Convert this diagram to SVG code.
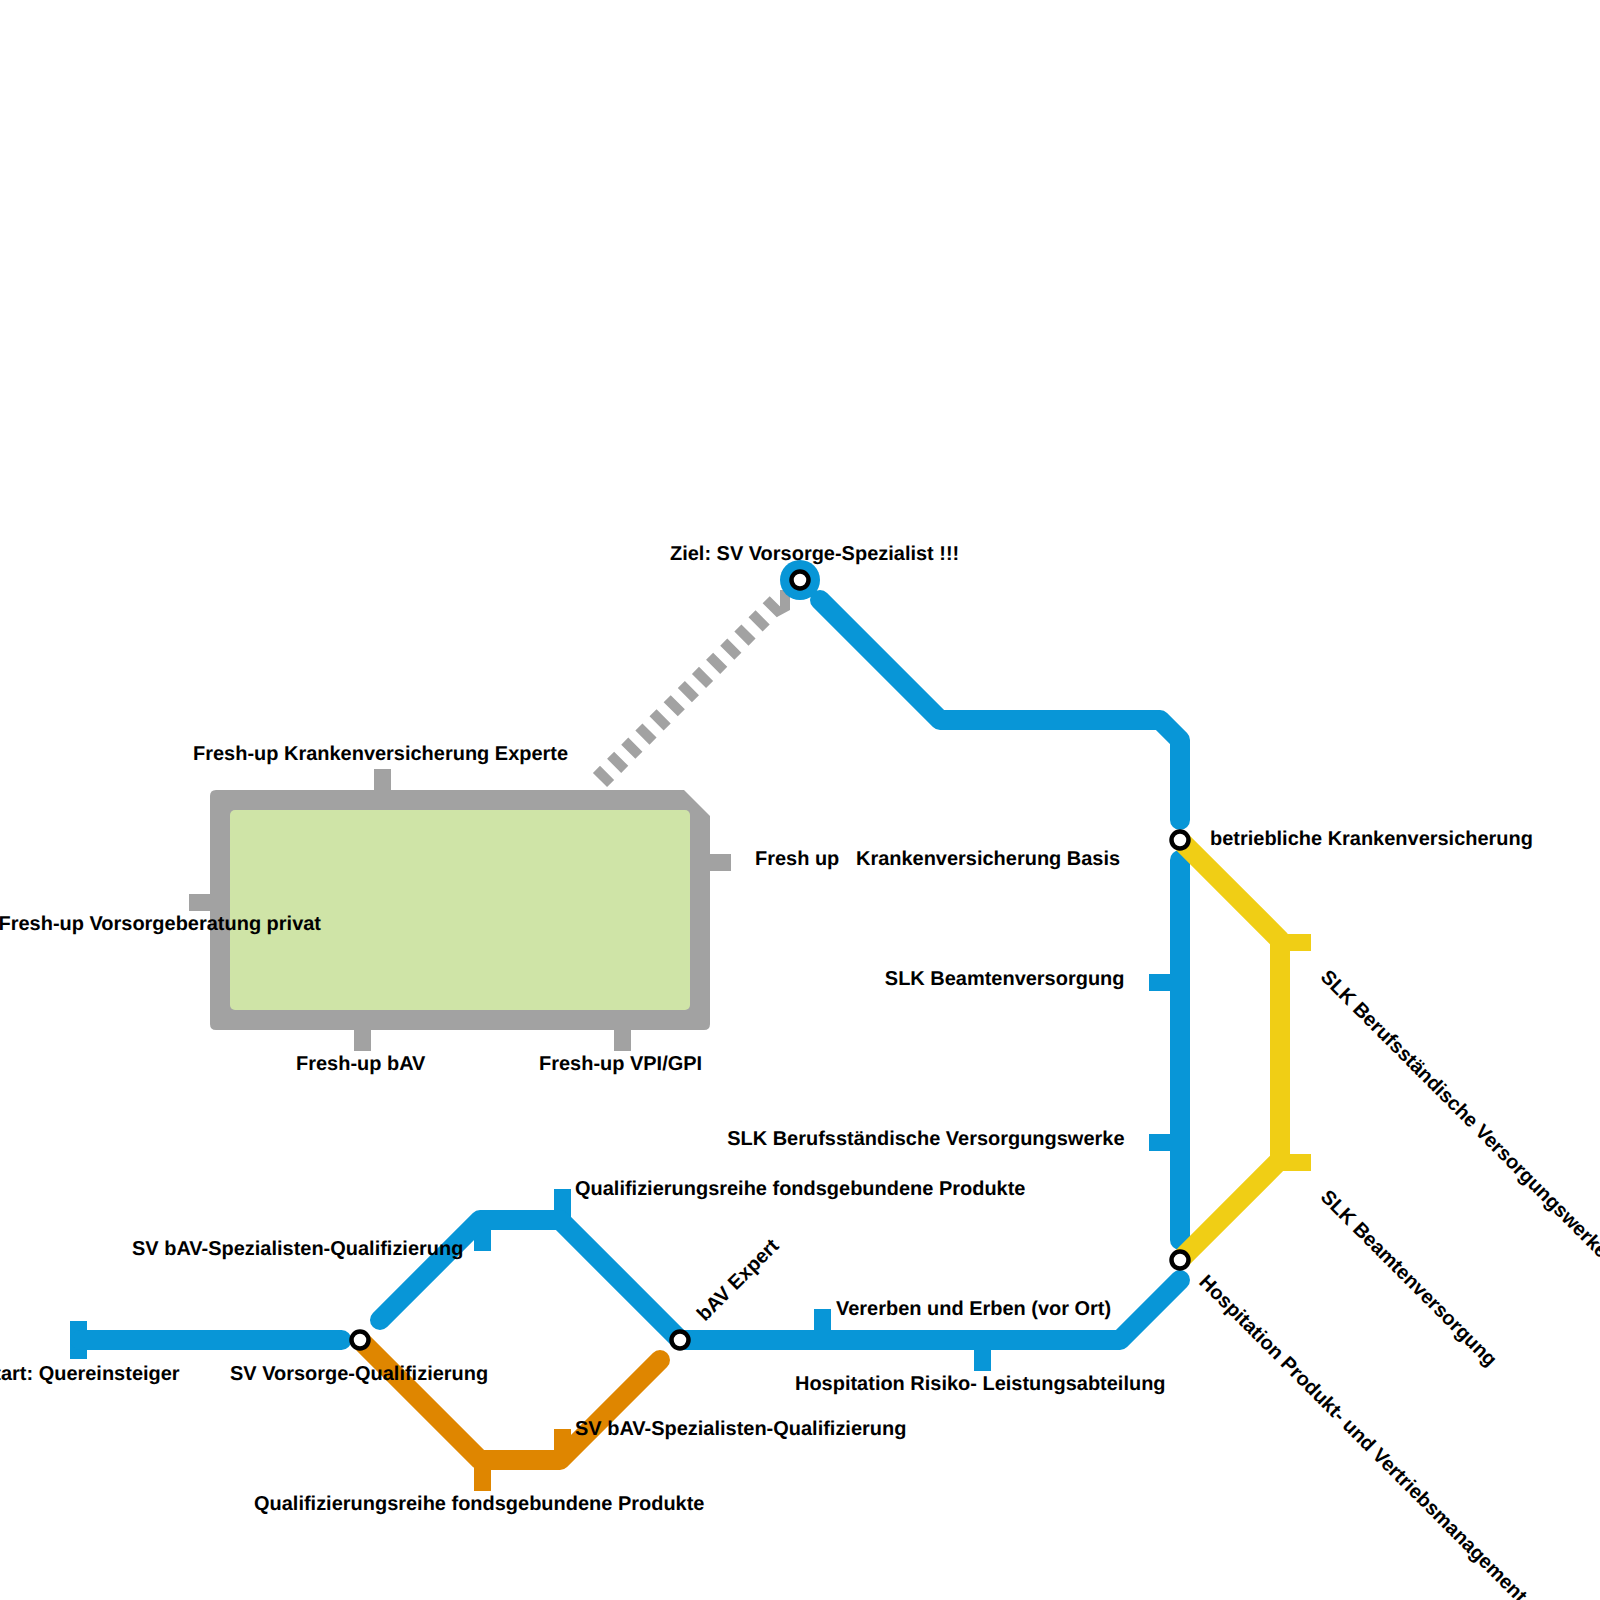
<svg xmlns="http://www.w3.org/2000/svg" width="1600" height="1600" viewBox="0 0 1600 1600">
<style>
.l{fill:none;stroke-width:20;stroke-linecap:round;stroke-linejoin:round}
.b{stroke:#0896d7}.y{stroke:#f0ce15}.o{stroke:#df8600}.g{stroke:#a2a2a2}
.tb{fill:#0896d7}.ty{fill:#f0ce15}.to{fill:#df8600}.tg{fill:#a2a2a2}
.s{fill:#fff;stroke:#000;stroke-width:4.5}
text{font-family:"Liberation Sans",Arial,sans-serif;font-weight:700;font-size:19.98px;fill:#000;text-rendering:geometricPrecision}
</style>
<g id="area">
<path class="tg" d="M216 790H684L710 816V1024Q710 1030 704 1030H216Q210 1030 210 1024V796Q210 790 216 790Z"/>
<rect x="230" y="810" width="460" height="200" rx="5" fill="#cfe4a7"/>
</g>
<g id="connectors">
<path class="tg" d="M374 769h17v21h-17zM189 894h21v17h-21zM354 1030h17v21h-17zM614 1030h17v21h-17zM710 854h21v17h-21z"/>
<path d="M600 780L777 603" fill="none" stroke="#a2a2a2" stroke-width="20" stroke-dasharray="10 10"/>
<path class="tg" d="M780 606V590H790V610L777 617Z"/>
<path class="to" d="M554 1429h17v31h-17zM474 1460h17v31h-17z"/>
<path class="l o" d="M360 1340L480 1460H560L660 1360"/>
<path class="tb" d="M70 1321h17v38h-17zM554 1189h17v31h-17zM474 1220h17v31h-17zM814 1309h17v31h-17zM974 1340h17v31h-17zM1149 974h31v17h-31zM1149 1134h31v17h-31z"/>
<path class="l b" d="M80 1340H341.5"/>
<path class="l b" d="M380 1320L480 1220H560L680 1340H1120L1180 1280"/>
<path class="l b" d="M820 600L940 720H1160L1180 740V820"/>
<path class="l b" d="M1180 860V1240"/>
<path class="ty" d="M1280 934h31v17h-31zM1280 1154h31v17h-31z"/>
<path class="l y" d="M1180 840L1280 940V1160L1180 1260"/>
</g>
<g id="node-ziel"><circle cx="800" cy="580" r="20" fill="#0896d7"/><circle class="s" cx="800" cy="580" r="8.5"/><text x="670" y="560">Ziel: SV Vorsorge-Spezialist !!!</text></g>
<g id="node-bkv"><circle class="s" cx="1180" cy="840" r="8.5"/><text x="1210" y="845">betriebliche Krankenversicherung</text></g>
<g id="node-hospitation"><circle class="s" cx="1180" cy="1260" r="8.5"/><text transform="translate(1198 1283) rotate(45)">Hospitation Produkt- und Vertriebsmanagement</text></g>
<g id="node-bav"><circle class="s" cx="680" cy="1340" r="8.5"/><text transform="translate(705 1322) rotate(-45)">bAV Expert</text></g>
<g id="node-sv"><circle class="s" cx="360" cy="1340" r="8.5"/><text x="230" y="1380">SV Vorsorge-Qualifizierung</text></g>
<g id="labels">
<text x="193" y="760">Fresh-up Krankenversicherung Experte</text>
<text x="-1.5" y="930">Fresh-up Vorsorgeberatung privat</text>
<text x="296" y="1070">Fresh-up bAV</text>
<text x="539" y="1070">Fresh-up VPI/GPI</text>
<text x="755" y="865" xml:space="preserve">Fresh up   Krankenversicherung Basis</text>
<text x="1124.5" y="985" text-anchor="end">SLK Beamtenversorgung</text>
<text x="1124.5" y="1145" text-anchor="end">SLK Berufsständische Versorgungswerke</text>
<text x="575" y="1195">Qualifizierungsreihe fondsgebundene Produkte</text>
<text x="132" y="1255">SV bAV-Spezialisten-Qualifizierung</text>
<text x="836" y="1315">Vererben und Erben (vor Ort)</text>
<text x="795" y="1390">Hospitation Risiko- Leistungsabteilung</text>
<text x="575" y="1435">SV bAV-Spezialisten-Qualifizierung</text>
<text x="179.6" y="1380" text-anchor="end">Start: Quereinsteiger</text>
<text x="254" y="1510">Qualifizierungsreihe fondsgebundene Produkte</text>
<text transform="translate(1319.5 978) rotate(45)">SLK Berufsständische Versorgungswerke</text>
<text transform="translate(1319.5 1198) rotate(45)">SLK Beamtenversorgung</text>
</g>
</svg>
